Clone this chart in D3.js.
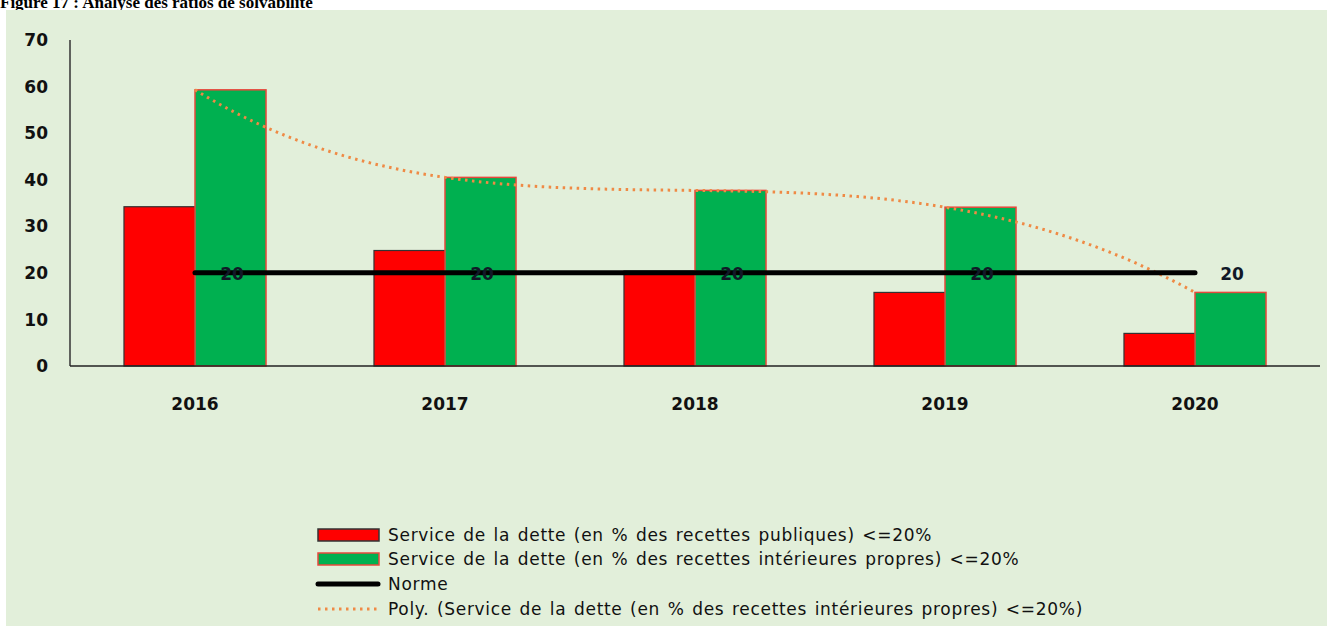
<!DOCTYPE html>
<html>
<head>
<meta charset="utf-8">
<script src="https://cdn.jsdelivr.net/npm/d3@7"></script>
<style>
  body { margin: 0; background: #fff; }
  svg { display: block; }
</style>
</head>
<body>
<script>
// debt service ratios chart (bars + norm line + poly trendline)

var years = ["2016", "2017", "2018", "2019", "2020"];
var publicRevenue = [34.2, 24.8, 20.4, 15.8, 7.0];   // red bars
var domesticRevenue = [59.3, 40.5, 37.7, 34.1, 15.8]; // green bars
var norme = [20, 20, 20, 20, 20];
var yTicks = [0, 10, 20, 30, 40, 50, 60, 70];
var legendLabels = [
    "Service de la dette (en % des recettes publiques) <=20%",
    "Service de la dette (en % des recettes intérieures propres) <=20%",
    "Norme",
    "Poly. (Service de la dette (en % des recettes intérieures propres) <=20%)"
];

var width = 1327,
    height = 626;

var svg = d3.select("body")
    .append("svg")
    .attr("width", width)
    .attr("height", height);

// title, cut off at top like the source
svg.append("text")
    .attr("x", 0)
    .attr("y", 8)
    .style("font-family", "Liberation Serif")
    .style("font-weight", "bold")
    .style("font-size", "17px")
    .text("Figure 17 : Analyse des ratios de solvabilité");

// background panel
svg.append("rect")
    .attr("x", 6)
    .attr("y", 10)
    .attr("width", width - 6)
    .attr("height", height - 10)
    .attr("fill", "#e2efda");

var x = d3.scaleBand()
    .domain(years)
    .range([70, 1320]);

var xSeries = d3.scaleBand()
    .domain(["pub", "dom"])
    .range([0, x.bandwidth()])
    .paddingOuter(0.76);

var y = d3.scaleLinear()
    .domain([0, 70])
    .range([366, 40]);

var tickFont = "DejaVu Sans";

// y tick labels
svg.selectAll(".ytick")
    .data(yTicks)
    .enter()
    .append("text")
    .attr("class", "ytick")
    .attr("x", 48)
    .attr("y", function(d){ return y(d); })
    .attr("dy", "0.36em")
    .attr("text-anchor", "end")
    .style("font-family", tickFont)
    .style("font-weight", "bold")
    .style("font-size", "17px")
    .style("fill", "#111")
    .text(function(d){ return d; });

// x labels
svg.selectAll(".xtick")
    .data(years)
    .enter()
    .append("text")
    .attr("class", "xtick")
    .attr("x", function(d){ return x(d) + x.bandwidth() / 2; })
    .attr("y", 404)
    .attr("dy", "0.36em")
    .attr("text-anchor", "middle")
    .style("font-family", tickFont)
    .style("font-weight", "bold")
    .style("font-size", "17px")
    .style("fill", "#111")
    .text(function(d){ return d; });

// bars
var groups = svg.selectAll(".grp")
    .data(years)
    .enter()
    .append("g")
    .attr("class", "grp")
    .attr("transform", function(d){ return "translate(" + x(d) + ",0)"; });

groups.append("rect")
    .attr("x", xSeries("pub"))
    .attr("width", xSeries.bandwidth())
    .attr("y", function(d, i){ return y(publicRevenue[i]); })
    .attr("height", function(d, i){ return y(0) - y(publicRevenue[i]); })
    .attr("fill", "#ff0000")
    .attr("stroke", "#333")
    .attr("stroke-width", 1.2);

groups.append("rect")
    .attr("x", xSeries("dom"))
    .attr("width", xSeries.bandwidth())
    .attr("y", function(d, i){ return y(domesticRevenue[i]); })
    .attr("height", function(d, i){ return y(0) - y(domesticRevenue[i]); })
    .attr("fill", "#00b050")
    .attr("stroke", "#e8483c")
    .attr("stroke-width", 1.5);

// axes lines
svg.append("line")
    .attr("x1", 70).attr("x2", 70)
    .attr("y1", y(70)).attr("y2", y(0))
    .attr("stroke", "#333")
    .attr("stroke-width", 1.5);

svg.append("line")
    .attr("x1", 70).attr("x2", 1320)
    .attr("y1", y(0)).attr("y2", y(0))
    .attr("stroke", "#222")
    .attr("stroke-width", 1.5);

var cx = function(d){ return x(d) + x.bandwidth() / 2; };

// polynomial trendline (order 4) of the green series
function poly(t){
    var s = 0;
    for (var i = 0; i < domesticRevenue.length; i++){
        var l = 1;
        for (var j = 0; j < domesticRevenue.length; j++){
            if (j !== i) l *= (t - j) / (i - j);
        }
        s += l * domesticRevenue[i];
    }
    return s;
}
var tSteps = d3.range(0, 4.0001, 0.05);
var trend = d3.line()
    .x(function(t){ return cx(years[0]) + t * x.step(); })
    .y(function(t){ return y(poly(t)); })
    .curve(d3.curveMonotoneX);

svg.append("path")
    .datum(tSteps)
    .attr("d", trend)
    .attr("fill", "none")
    .attr("stroke", "#ef8a45")
    .attr("stroke-width", 3)
    .attr("stroke-dasharray", "2.5 4.5");

// norme line
var normLine = d3.line()
    .x(function(d){ return cx(d); })
    .y(function(d, i){ return y(norme[i]); });

svg.append("path")
    .datum(years)
    .attr("d", normLine)
    .attr("fill", "none")
    .attr("stroke", "#000")
    .attr("stroke-width", 5)
    .attr("stroke-linecap", "round");

svg.selectAll(".nlabel")
    .data(years)
    .enter()
    .append("text")
    .attr("class", "nlabel")
    .attr("x", function(d){ return cx(d) + 37; })
    .attr("y", function(d, i){ return y(norme[i]) + 1; })
    .attr("dy", "0.36em")
    .attr("text-anchor", "middle")
    .style("font-family", tickFont)
    .style("font-weight", "bold")
    .style("font-size", "17px")
    .style("fill", "#111827")
    .text(function(d, i){ return norme[i]; });

// legend
var legend = svg.append("g")
    .attr("transform", "translate(318,0)");

var rowsY = [535, 559, 584, 609];

legend.append("rect")
    .attr("x", 0).attr("y", rowsY[0] - 6)
    .attr("width", 61).attr("height", 12)
    .attr("fill", "#ff0000")
    .attr("stroke", "#333")
    .attr("stroke-width", 1.5);

legend.append("rect")
    .attr("x", 0).attr("y", rowsY[1] - 6)
    .attr("width", 61).attr("height", 12)
    .attr("fill", "#00b050")
    .attr("stroke", "#e8483c")
    .attr("stroke-width", 1.5);

legend.append("line")
    .attr("x1", 0).attr("x2", 60)
    .attr("y1", rowsY[2]).attr("y2", rowsY[2])
    .attr("stroke", "#000")
    .attr("stroke-width", 5)
    .attr("stroke-linecap", "round");

legend.append("line")
    .attr("x1", 0).attr("x2", 62)
    .attr("y1", rowsY[3]).attr("y2", rowsY[3])
    .attr("stroke", "#ef8a45")
    .attr("stroke-width", 3)
    .attr("stroke-dasharray", "2.5 4.5");

legend.selectAll(".ltext")
    .data(legendLabels)
    .enter()
    .append("text")
    .attr("class", "ltext")
    .attr("x", 70)
    .attr("y", function(d, i){ return rowsY[i]; })
    .attr("dy", "0.36em")
    .style("font-family", "DejaVu Sans")
    .style("font-size", "17px")
    .style("letter-spacing", "0.7px")
    .style("word-spacing", "1.5px")
    .style("fill", "#111")
    .text(function(d){ return d; });
</script>
</body>
</html>
